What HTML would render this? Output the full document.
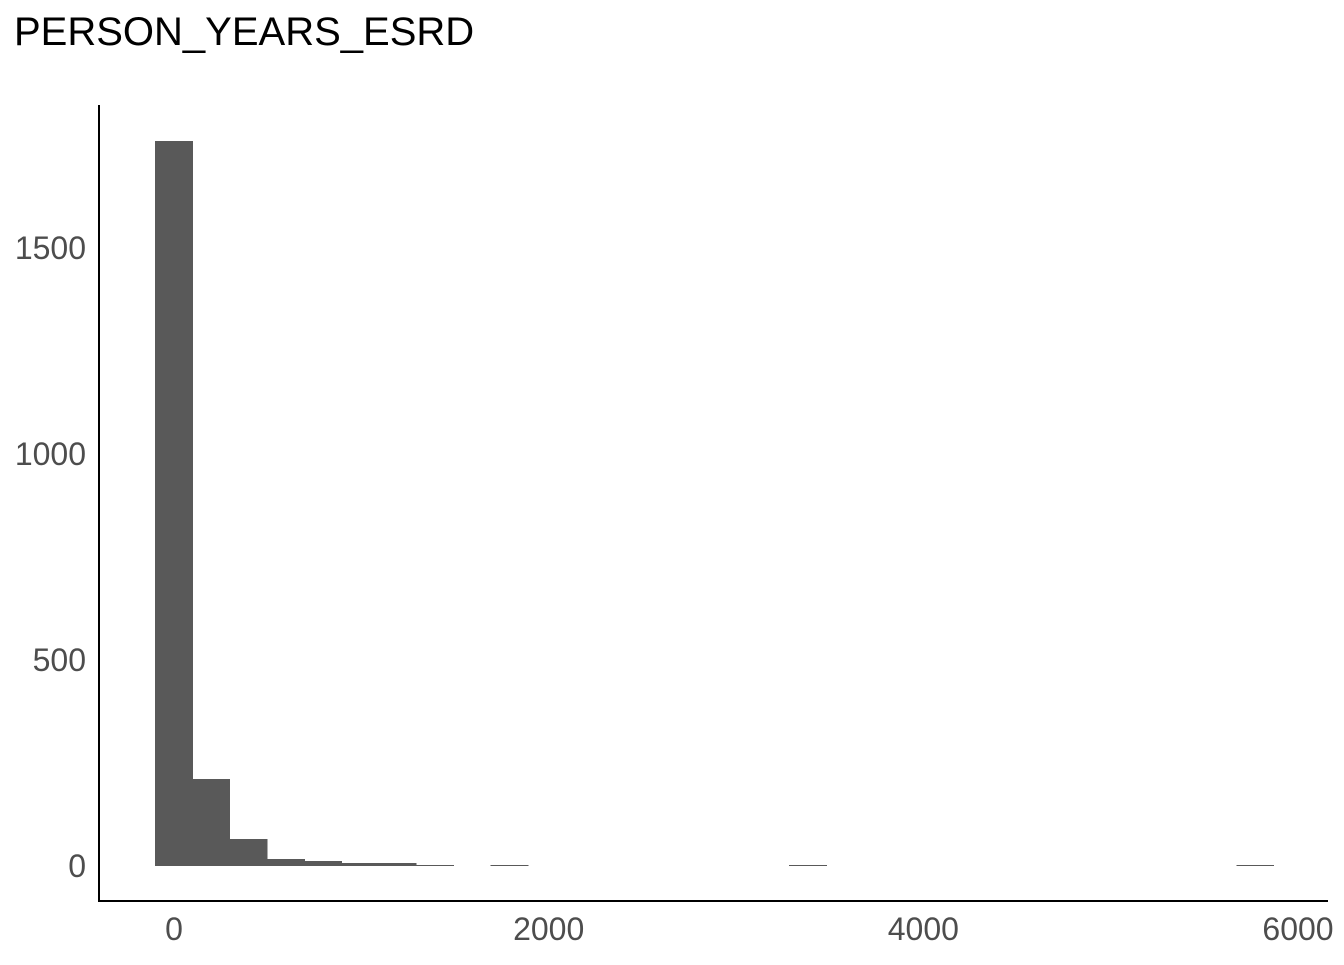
<!DOCTYPE html>
<html><head><meta charset="utf-8"><style>
body{margin:0;background:#fff;}
svg text{font-family:"Liberation Sans",sans-serif;}
</style></head><body>
<svg id="chart" width="1344" height="960">
<text x="14" y="45" font-size="40" fill="#000">PERSON_YEARS_ESRD</text>
<g id="bars" shape-rendering="crispEdges"></g>
<g id="axes"></g>
</svg>
<script>
const binCenters=[-1.5,197.5,396.5,595.5,794.5,993.5,1192.5,1391.5,1789.5,3382.5,5770.5];
const counts=[1760,211,66,17,12,7,7,2,2,1,1];
const xTicks=[0,2000,4000,6000];
const yTicks=[0,500,1000,1500];
const binWidth=199;
const x=v=>174+v*(1298-174)/6000;
const y=v=>866-v*(866-248)/1500;
const ns="http://www.w3.org/2000/svg";
const bars=document.getElementById('bars'), axes=document.getElementById('axes');
binCenters.forEach((c,i)=>{
  if(counts[i]<=0)return;
  const r=document.createElementNS(ns,'rect');
  const x0=x(c-binWidth/2),x1=x(c+binWidth/2);
  const h=Math.max(y(0)-y(counts[i]),1);
  r.setAttribute('x',x0);r.setAttribute('width',x1-x0+0.6);
  r.setAttribute('y',y(0)-h);r.setAttribute('height',h);
  r.setAttribute('fill','#595959');
  
  
  bars.appendChild(r);
});
function line(x1,y1,x2,y2,name){
  const l=document.createElementNS(ns,'line');
  l.setAttribute('x1',x1);l.setAttribute('y1',y1);l.setAttribute('x2',x2);l.setAttribute('y2',y2);
  l.setAttribute('stroke','#000');l.setAttribute('stroke-width','2');
  
  
  axes.appendChild(l);
}
line(99,105,99,902,'y-axis-line');
line(98,901,1328,901,'x-axis-line');
yTicks.forEach(v=>{
  const t=document.createElementNS(ns,'text');
  t.setAttribute('x',86);t.setAttribute('y',y(v)+11);t.setAttribute('text-anchor','end');
  t.setAttribute('font-size','32');t.setAttribute('fill','#4d4d4d');
  t.textContent=v;
  
  
  axes.appendChild(t);
});
xTicks.forEach(v=>{
  const t=document.createElementNS(ns,'text');
  t.setAttribute('x',x(v));t.setAttribute('y',940);t.setAttribute('text-anchor','middle');
  t.setAttribute('font-size','32');t.setAttribute('fill','#4d4d4d');
  t.textContent=v;
  
  
  axes.appendChild(t);
});
</script>
</body></html>
